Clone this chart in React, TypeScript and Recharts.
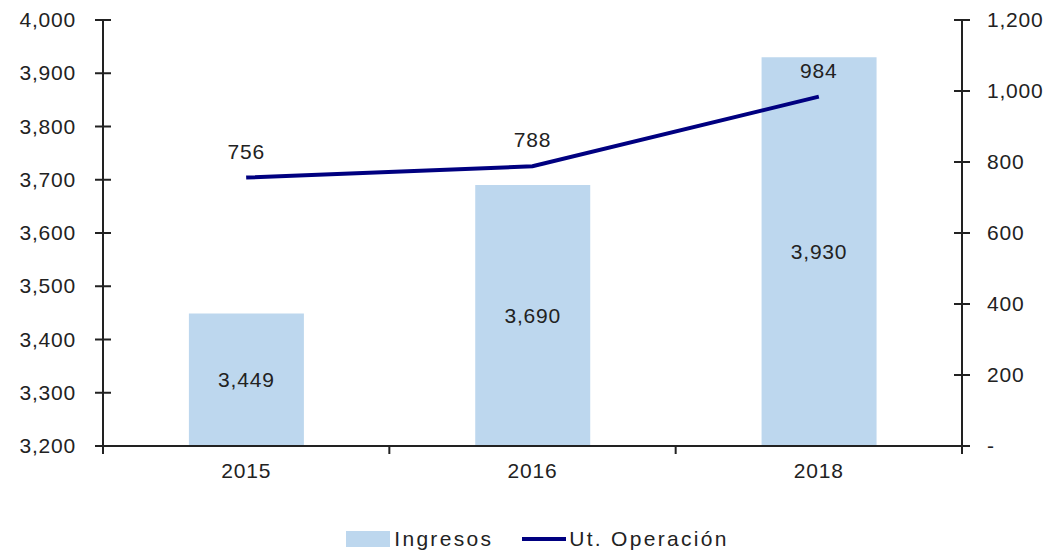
import { ComposedChart, Bar, Line, XAxis, YAxis, Legend, LabelList } from 'recharts';

const years = ['2015', '2016', '2018'];
const ingresos = [3449, 3690, 3930];
const utOperacion = [756, 788, 984];
const leftTicks = [3200, 3300, 3400, 3500, 3600, 3700, 3800, 3900, 4000];
const rightTicks = [0, 200, 400, 600, 800, 1000, 1200];

const data = years.map((year, i) => ({
  year,
  ingresos: ingresos[i],
  ut: utOperacion[i]
}));

const FONT = '"Liberation Sans", Arial, sans-serif';
const AXIS = '#222';
const BAR_COLOR = '#BDD7EE';
const LINE_COLOR = '#000080';
const TXT = { fontSize: 21, fontFamily: FONT, fill: '#222', letterSpacing: 0.8 };

const fmt = (v: number) => (v === 0 ? '-' : v.toLocaleString('en-US'));

// tick marks cross the axis line, labels sit outside
const LeftTick = (props: any) => {
  const { x, y, payload } = props;
  return (
    <g>
      <line x1={x - 8} x2={x + 8} y1={y} y2={y} stroke={AXIS} strokeWidth={2} />
      <text x={x - 27} y={y} dy={7} textAnchor="end" style={TXT}>
        {fmt(payload.value)}
      </text>
    </g>
  );
};

const RightTick = (props: any) => {
  const { x, y, payload } = props;
  return (
    <g>
      <line x1={x - 8} x2={x + 8} y1={y} y2={y} stroke={AXIS} strokeWidth={2} />
      <text x={x + 25} y={y} dy={7} textAnchor="start" style={TXT}>
        {fmt(payload.value)}
      </text>
    </g>
  );
};

const BottomTick = (props: any) => {
  const { x, y, payload, index, visibleTicksCount } = props;
  const half = payload.offset || 0;
  return (
    <g>
      <line x1={x - half} x2={x - half} y1={y} y2={y + 8} stroke={AXIS} strokeWidth={2} />
      {index === visibleTicksCount - 1 && (
        <line x1={x + half} x2={x + half} y1={y} y2={y + 8} stroke={AXIS} strokeWidth={2} />
      )}
      <text x={x} y={y} dy={32} textAnchor="middle" style={TXT}>
        {payload.value}
      </text>
    </g>
  );
};

const LegendContent = (props: any) => {
  const { payload } = props;
  return (
    <div
      style={{
        display: 'flex',
        justifyContent: 'center',
        alignItems: 'center',
        fontFamily: FONT,
        fontSize: 21,
        color: '#222',
        letterSpacing: 2.3,
        paddingLeft: 58
      }}
    >
      {(payload || []).map((entry: any) => (
        <div key={entry.value} style={{ display: 'flex', alignItems: 'center', marginRight: 28 }}>
          {entry.type === 'rect' ? (
            <span style={{ display: 'inline-block', width: 44, height: 16, background: entry.color, marginRight: 4 }} />
          ) : (
            <svg width={46} height={16} style={{ marginRight: 2 }}>
              <line x1={1} x2={45} y1={8} y2={8} stroke={entry.color} strokeWidth={4} />
            </svg>
          )}
          <span>{entry.value}</span>
        </div>
      ))}
    </div>
  );
};

export default function App() {
  return (
    <div style={{ position: 'absolute', left: 0, top: 0, background: '#fff' }}>
      <ComposedChart
        width={1045}
        height={554}
        data={data}
        margin={{ top: 20, right: 8, bottom: 44, left: 8 }}
        barCategoryGap="30%"
      >
        <XAxis
          dataKey="year"
          height={40}
          stroke={AXIS}
          strokeWidth={2}
          tickLine={false}
          tickSize={0}
          tickMargin={0}
          tick={<BottomTick />}
          interval={0}
        />
        <YAxis
          yAxisId="left"
          width={95}
          domain={[3200, 4000]}
          ticks={leftTicks}
          stroke={AXIS}
          strokeWidth={2}
          tickLine={false}
          tickSize={0}
          tickMargin={0}
          tick={<LeftTick />}
          interval={0}
          allowDataOverflow
        />
        <YAxis
          yAxisId="right"
          orientation="right"
          width={75}
          domain={[0, 1200]}
          ticks={rightTicks}
          stroke={AXIS}
          strokeWidth={2}
          tickLine={false}
          tickSize={0}
          tickMargin={0}
          tick={<RightTick />}
          interval={0}
        />
        <Legend
          verticalAlign="bottom"
          content={<LegendContent />}
          wrapperStyle={{ top: 527, left: 0, width: 1045 }}
        />
        <Bar yAxisId="left" dataKey="ingresos" name="Ingresos" fill={BAR_COLOR} isAnimationActive={false} legendType="rect">
          <LabelList
            dataKey="ingresos"
            position="center"
            formatter={(v: any) => Number(v).toLocaleString('en-US')}
            style={TXT}
          />
        </Bar>
        <Line
          yAxisId="right"
          dataKey="ut"
          name="Ut. Operación"
          stroke={LINE_COLOR}
          strokeWidth={4}
          dot={false}
          type="linear"
          isAnimationActive={false}
          legendType="line"
        >
          <LabelList dataKey="ut" position="top" offset={19} style={TXT} />
        </Line>
      </ComposedChart>
    </div>
  );
}
